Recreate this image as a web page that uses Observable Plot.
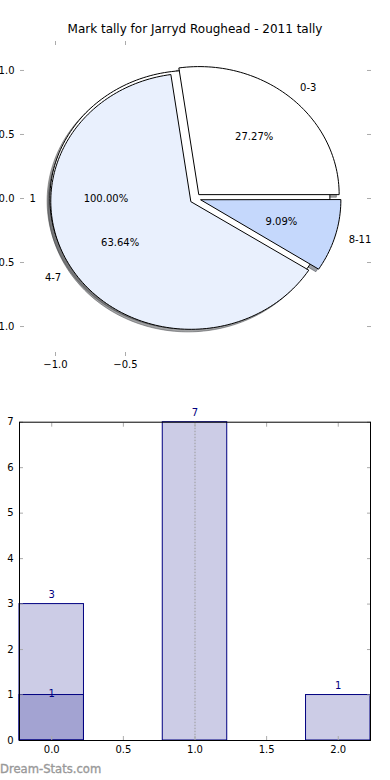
<!DOCTYPE html>
<html>
<head>
<meta charset="utf-8">
<script src="https://cdn.jsdelivr.net/npm/d3@7"></script>
<script src="https://cdn.jsdelivr.net/npm/@observablehq/plot@0.6"></script>
<style>
  html, body { margin: 0; padding: 0; background: #fff; overflow: hidden; }
  #wrap { position: relative; width: 390px; height: 780px; overflow: hidden; font-family: "DejaVu Sans", sans-serif; }
  #title { position: absolute; left: 0; top: 23px; width: 390px; text-align: center; font-size: 12px; line-height: 12px; color: #000; }
  #pie { position: absolute; left: 0; top: 0; }
  #bars { position: absolute; left: 0; top: 380px; }
  #wm { position: absolute; left: 0; top: 764px; font-size: 11.6px; line-height: 11.6px; color: #999999; font-weight: normal; -webkit-text-stroke: 0.35px #999999; }
  svg { overflow: visible; }
</style>
</head>
<body>
<div id="wrap">
  <div id="pie"></div>
  <div id="title"></div>
  <div id="bars"></div>
  <div id="wm"></div>
</div>
<script>
// ---------- data ----------
const chartTitle = "Mark tally for Jarryd Roughead - 2011 tally";
const sliceLabels = ["0-3", "4-7", "8-11"];
const sliceValues = [3, 7, 1];
const totalLabels = ["1"];
const totalValues = [1];
const barPositions = [0, 1, 2];
const barValues = [3, 7, 1];
const overlayPositions = [0];
const overlayValues = [1];
const pieYTicks = [-1, -0.5, 0, 0.5, 1];
const pieXTicks = [-1, -0.5];
const barXTicks = [0, 0.5, 1, 1.5, 2];
const barYTicks = [0, 1, 2, 3, 4, 5, 6, 7];
const watermark = "Dream-Stats.com";

// ---------- styles ----------
const sliceColors = ["#ffffff", "#e9f0fd", "#c5d8fc"];
const totalColors = ["#ffffff"];
const EXPLODE = 0.04, SHADOW = 0.02, BAR_HALF = 0.225;
const tickGray = "#ababab";

function shade(c) {
  const r = d3.rgb(c);
  return d3.rgb(r.r * 0.3, r.g * 0.3, r.b * 0.3).formatHex();
}

function wedges(labels, values, colors) {
  const total = d3.sum(values);
  let acc = 0;
  return values.map((v, i) => {
    const t1 = acc / total * 360; acc += v; const t2 = acc / total * 360;
    const mid = (t1 + t2) / 2 * Math.PI / 180;
    const cx = EXPLODE * Math.cos(mid), cy = EXPLODE * Math.sin(mid);
    const full = (t2 - t1) >= 360 - 1e-9;
    const pts = [];
    if (!full) pts.push([cx, cy]);
    const n = Math.max(4, Math.ceil((t2 - t1) / 1.5));
    const last = full ? n - 1 : n;
    for (let k = 0; k <= last; k++) {
      const a = (t1 + (t2 - t1) * k / n) * Math.PI / 180;
      pts.push([cx + Math.cos(a), cy + Math.sin(a)]);
    }
    return {
      label: labels[i], value: v, pct: v / total * 100, mid, cx, cy, pts, color: colors[i],
      lx: cx + 1.1 * Math.cos(mid), ly: cy + 1.1 * Math.sin(mid),
      px: cx + 0.6 * Math.cos(mid), py: cy + 0.6 * Math.sin(mid)
    };
  });
}

const outer = wedges(totalLabels, totalValues, totalColors);
const inner = wedges(sliceLabels, sliceValues, sliceColors);
const allW = [...outer, ...inner];

const shadowMarks = allW.map(w => Plot.line(w.pts.map(p => [p[0] - SHADOW, p[1] - SHADOW]), {
  curve: "linear-closed", fill: shade(w.color), fillOpacity: 0.5,
  stroke: shade(w.color), strokeOpacity: 0.5, strokeWidth: 1
}));
const wedgeMarks = allW.map(w => Plot.line(w.pts, {
  curve: "linear-closed", fill: w.color, stroke: "#000", strokeWidth: 1, strokeLinejoin: "miter"
}));

const pieStyle = { fontFamily: "DejaVu Sans, sans-serif", fontSize: "10px", background: "transparent", overflow: "visible" };

const pie = Plot.plot({
  width: 390, height: 380,
  marginTop: 40, marginBottom: 24, marginLeft: 20, marginRight: 20,
  x: { domain: [-1.25, 1.25] },
  y: { domain: [-1.234, 1.234] },
  style: pieStyle,
  marks: [
    ...shadowMarks,
    ...wedgeMarks,
    Plot.text(allW.filter(w => w.lx > 0), { x: "lx", y: "ly", text: "label", textAnchor: "start", fill: "#000", fontSize: 10 }),
    Plot.text(allW.filter(w => w.lx <= 0), { x: "lx", y: "ly", text: "label", textAnchor: "end", fill: "#000", fontSize: 10 }),
    Plot.text(allW, { x: "px", y: "py", text: w => w.pct.toFixed(2) + "%", fill: "#000", fontSize: 10 }),
    Plot.axisY(pieYTicks, { anchor: "left", tickSize: -4, tickPadding: 10, stroke: tickGray, fill: "#000", label: null, tickFormat: d3.format(".1f") }),
    Plot.axisY(pieYTicks, { anchor: "right", tickSize: -4, stroke: tickGray, fill: "none", label: null }),
    Plot.axisX(pieXTicks, { anchor: "top", tickSize: -4, stroke: tickGray, fill: "none", label: null }),
    Plot.axisX(pieXTicks, { anchor: "bottom", tickSize: -4, tickPadding: 8, stroke: tickGray, fill: "#000", label: null, tickFormat: d3.format(".1f") })
  ]
});
document.getElementById("pie").appendChild(pie);
document.getElementById("title").textContent = chartTitle;

const bars = barPositions.map((p, i) => ({ pos: p, value: barValues[i] }));
const overlay = overlayPositions.map((p, i) => ({ pos: p, value: overlayValues[i] }));

const barPlot = Plot.plot({
  width: 390, height: 400,
  marginTop: 41.7, marginBottom: 40, marginLeft: 19, marginRight: 20,
  x: { domain: [-BAR_HALF, 2 + BAR_HALF] },
  y: { domain: [0, 7] },
  style: pieStyle,
  marks: [
    Plot.rectY(bars, { x1: d => d.pos - BAR_HALF, x2: d => d.pos + BAR_HALF, y1: 0, y2: "value", fill: "navy", fillOpacity: 0.2, stroke: "navy", strokeWidth: 1 }),
    Plot.rectY(overlay, { x1: d => d.pos - BAR_HALF, x2: d => d.pos + BAR_HALF, y1: 0, y2: "value", fill: "navy", fillOpacity: 0.2, stroke: "navy", strokeWidth: 1 }),
    Plot.ruleX([1], { stroke: "#9a9a9a", strokeDasharray: "1.5,1.5", strokeWidth: 1 }),
    Plot.text(bars, { x: "pos", y: "value", text: d => String(d.value), dy: -9.5, fill: "navy", fontSize: 10 }),
    Plot.text(overlay, { x: "pos", y: "value", text: d => String(d.value), dy: -1, fill: "navy", fontSize: 10 }),
    Plot.axisY(barYTicks, { anchor: "left", tickSize: -4, tickPadding: 10, stroke: tickGray, fill: "#000", label: null, tickFormat: d3.format("d") }),
    Plot.axisY(barYTicks, { anchor: "right", tickSize: -4, stroke: tickGray, fill: "none", label: null }),
    Plot.axisX(barXTicks, { anchor: "top", tickSize: -4, stroke: tickGray, fill: "none", label: null }),
    Plot.axisX(barXTicks, { anchor: "bottom", tickSize: -4, tickPadding: 9.5, stroke: tickGray, fill: "#000", label: null, tickFormat: d3.format(".1f") }),
    Plot.frame({ stroke: "#000", strokeWidth: 1 })
  ]
});
document.getElementById("bars").appendChild(barPlot);
document.getElementById("wm").textContent = watermark;
</script>
</body>
</html>
